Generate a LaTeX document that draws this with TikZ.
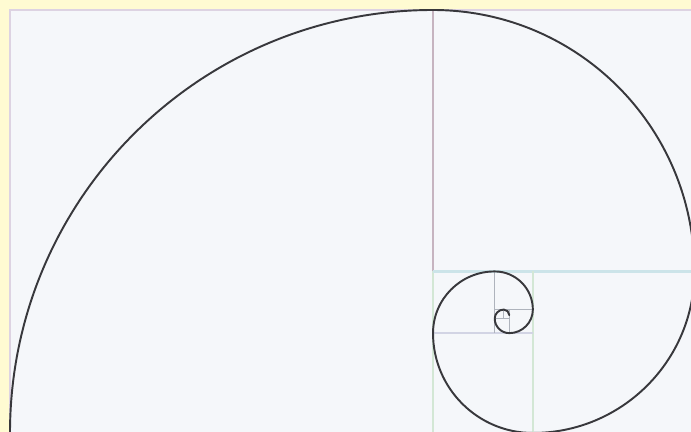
\documentclass[tikz,border=0pt]{standalone}
\usepackage{tikz}
\usepackage{xcolor}
\definecolor{paper}{HTML}{FFFBD2}
\definecolor{panel}{HTML}{F5F7FA}
\definecolor{frame}{HTML}{DDD3E2}
\definecolor{rose}{HTML}{C6B4C0}
\definecolor{teal}{HTML}{CCE4E9}
\definecolor{mint}{HTML}{D3E7D5}
\definecolor{lilac}{HTML}{D2D4E4}
\definecolor{grid}{HTML}{AEB3BC}
\definecolor{ink}{HTML}{38383C}
\tikzset{
  cut/.style={line width=0.7pt},
  spiral/.style={draw=ink, line width=1.1pt, line cap=round},
}

\begin{document}
\begin{tikzpicture}[x=0.02cm,y=0.02cm]
  % paper and golden rectangle
  \fill[paper] (0,0) rectangle (691,432);
  \useasboundingbox (0,0) rectangle (691,432);
  \clip (0,0) rectangle (691,432);
  \draw[draw=frame, fill=panel, line width=1.6pt] (10,-1) rectangle (694.4,422);

  % square divisions
  \draw[cut, draw=rose] (433,422) -- (433,160.6);
  \draw[cut, draw=mint] (433,160.6) -- (433,-1);
  \draw[cut, draw=teal, line width=1.4pt] (433,160.6) -- (694.4,160.6);
  \draw[cut, draw=mint, line width=1.2pt] (532.8,160.6) -- (532.8,-1);
  \draw[cut, draw=lilac, line width=1pt] (433,98.9) -- (532.8,98.9);
  \foreach \xa/\ya/\xb/\yb in {494.7/160.6/494.7/98.9, 494.7/122.5/532.8/122.5,
                               509.2/122.5/509.2/98.9, 494.7/113.5/509.2/113.5,
                               503.7/122.5/503.7/113.5} {
    \draw[cut, draw=grid, line width=0.5pt] (\xa,\ya) -- (\xb,\yb);
  }

  % golden spiral, one quarter arc per square
  \draw[spiral] (10,-1)
    \foreach \i in {0,...,9} {
      arc[start angle={180-90*\i}, delta angle=-90, radius={423*0.618034^\i}]
    };
\end{tikzpicture}
\end{document}
